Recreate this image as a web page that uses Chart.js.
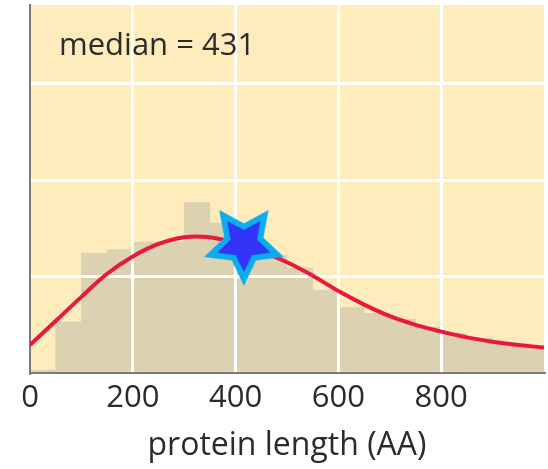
<!DOCTYPE html>
<html>
<head>
<meta charset="utf-8">
<script src="https://cdn.jsdelivr.net/npm/chart.js@4.4.1/dist/chart.umd.min.js"></script>
<style>
  body { margin: 0; background: #fff; }
  #wrap { width: 548px; height: 469px; }
</style>
</head>
<body>
<div id="wrap"><canvas id="hist"></canvas></div>
<script>
// histogram bins (50 AA wide), heights
var binCenters = [25,75,125,175,225,275,325,375,425,475,525,575,625,675,725,775,825,875,925,975]
var binHeights = [0.03,0.53,1.245,1.28,1.36,1.36,1.77,1.555,1.30,1.22,1.09,0.86,0.68,0.62,0.56,0.48,0.41,0.36,0.31,0.26]

// fitted curve
var curveX = [0,50,100,150,200,250,300,350,400,450,500,550,600,650,700,750,800,850,900,950,1000]
var curveY = [0.29,0.54,0.79,1.03,1.21,1.34,1.41,1.41,1.35,1.26,1.15,1.01,0.85,0.71,0.59,0.50,0.43,0.37,0.325,0.29,0.265]

// median marker
var starPoint = { x: 416, y: 1.34 }

var xTicks = [0,200,400,600,800]
var yTicks = [1,2,3]

var medianLabel = 'median = 431'
var xTitle = 'protein length (AA)'

var FONT = '"Open Sans", "Noto Sans", sans-serif'

// star image for the point style
function makeStar() {
  var c = document.createElement('canvas')
  c.width = 100
  c.height = 100
  var g = c.getContext('2d')

  function star(R, r, color) {
    g.beginPath()
    for (var i = 0; i < 10; i++) {
      var a = Math.PI / 2 + i * Math.PI / 5
      var rad = i % 2 == 0 ? R : r
      var px = 50 + rad * Math.cos(a)
      var py = 50 + rad * Math.sin(a)
      if (i == 0) g.moveTo(px, py)
      else g.lineTo(px, py)
    }
    g.closePath()
    g.fillStyle = color
    g.fill()
  }
  star(42, 20.5, '#0AADEE')
  star(28, 14, '#3434F6')
  return c
}

var plotBg = {
  id: 'plotBg',
  beforeDraw(chart) {
    var a = chart.chartArea
    var ctx = chart.ctx
    ctx.save()
    ctx.fillStyle = '#FEECBD'
    ctx.fillRect(a.left, a.top, a.right - a.left, a.bottom - a.top)
    ctx.restore()
  },
  // grid lines run over the bars but under the curve
  afterDatasetDraw(chart, args) {
    if (args.index !== 0) return
    chart.scales.x.drawGrid(chart.chartArea)
    chart.scales.y.drawGrid(chart.chartArea)
    chart.scales.x.drawBorder()
    chart.scales.y.drawBorder()
  },
  afterDraw(chart) {
    var ctx = chart.ctx
    ctx.save()
    ctx.font = '31px ' + FONT
    ctx.fillStyle = '#2b2b2b'
    ctx.textBaseline = 'alphabetic'
    ctx.fillText(medianLabel, chart.chartArea.left + 29, 55)
    ctx.restore()
  }
}

function gridColor(ctx) {
  return ctx.tick && ctx.tick.value === 0 ? 'rgba(0,0,0,0)' : '#ffffff'
}

function noPadding(s) {
  s.paddingLeft = 0
  s.paddingRight = 0
  s.paddingTop = 0
  s.paddingBottom = 0
}

new Chart(document.getElementById('hist'), {
  type: 'bar',
  data: {
    datasets: [
      {
        type: 'bar',
        data: binCenters.map((x, i) => ({ x: x, y: binHeights[i] })),
        backgroundColor: '#DCD1B0',
        borderWidth: 0,
        barPercentage: 1,
        categoryPercentage: 1,
        order: 3
      }, {
        type: 'line',
        data: curveX.map((x, i) => ({ x: x, y: curveY[i] })),
        borderColor: '#E8193C',
        borderWidth: 4,
        pointRadius: 0,
        tension: 0.4,
        fill: false,
        order: 2
      }, {
        type: 'scatter',
        data: [starPoint],
        pointStyle: makeStar(),
        pointRadius: 40,
        order: 1
      }
    ]
  },
  options: {
    responsive: true,
    maintainAspectRatio: false,
    animation: false,
    layout: { autoPadding: false, padding: { left: 30, right: 4, top: 5, bottom: 0 } },
    plugins: {
      legend: { display: false },
      tooltip: { enabled: false },
      title: { display: false }
    },
    scales: {
      x: {
        type: 'linear',
        min: 0,
        max: 1000,
        offset: false,
        afterBuildTicks: s => { s.ticks = xTicks.map(v => ({ value: v })) },
        afterFit: s => { s.height = 96; noPadding(s) },
        grid: { color: gridColor, lineWidth: 3, drawTicks: false, offset: false },
        border: { display: true, color: '#7a7a7a', width: 2 },
        ticks: {
          color: '#2b2b2b',
          padding: 7,
          maxRotation: 0,
          autoSkip: false,
          font: { family: FONT, size: 31 }
        },
        title: {
          display: true,
          text: xTitle,
          color: '#2b2b2b',
          padding: { top: 0, bottom: 4 },
          font: { family: FONT, size: 32 }
        }
      },
      y: {
        min: 0,
        max: 3.82,
        afterBuildTicks: s => { s.ticks = [0].concat(yTicks).map(v => ({ value: v })) },
        afterFit: s => { s.width = 0; noPadding(s) },
        grid: { color: gridColor, lineWidth: 3, drawTicks: false },
        border: { display: true, color: '#7a7a7a', width: 2 },
        ticks: { display: false }
      }
    }
  },
  plugins: [plotBg]
})
</script>
</body>
</html>
